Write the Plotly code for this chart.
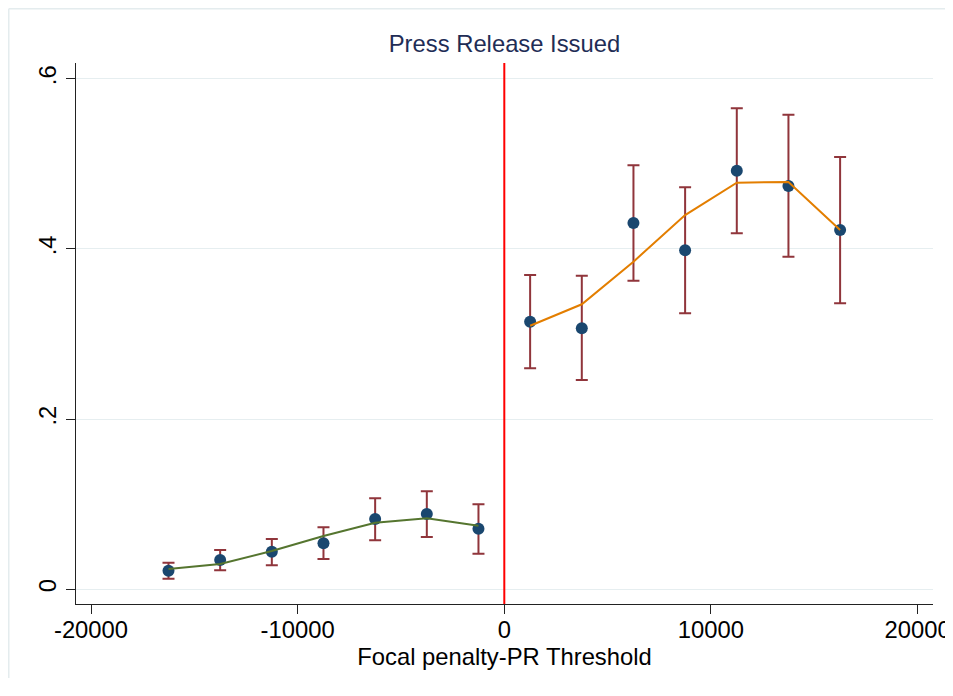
import plotly.graph_objects as go

# ---- data ----
x_left = [-16250, -13750, -11250, -8750, -6250, -3750, -1250]
y_left = [0.0219, 0.0344, 0.0442, 0.0541, 0.0826, 0.0885, 0.0712]
hi_left = [0.0313, 0.0462, 0.0591, 0.0729, 0.1070, 0.1152, 0.0999]
lo_left = [0.0125, 0.0223, 0.0282, 0.0356, 0.0576, 0.0615, 0.0418]
fit_left = [0.0239, 0.0297, 0.0450, 0.0626, 0.0783, 0.0835, 0.0748]

x_right = [1250, 3750, 6250, 8750, 11250, 13750, 16250]
y_right = [0.3145, 0.3068, 0.4305, 0.3984, 0.4920, 0.4740, 0.4223]
hi_right = [0.3694, 0.3686, 0.4984, 0.4725, 0.5654, 0.5578, 0.5081]
lo_right = [0.2598, 0.2460, 0.3627, 0.3244, 0.4184, 0.3909, 0.3362]
fit_right = [0.3098, 0.3350, 0.3851, 0.4399, 0.4779, 0.4787, 0.4223]

x_ticks = [-20000, -10000, 0, 10000, 20000]
x_tick_text = ["-20000", "-10000", "0", "10000", "20000"]
y_ticks = [0, 0.2, 0.4, 0.6]
y_tick_text = ["0", ".2", ".4", ".6"]

title_text = "Press Release Issued"
x_title = "Focal penalty-PR Threshold"

NAVY = "#1a476f"
MAROON = "#90353b"
GREEN = "#55752f"
ORANGE = "#e37e00"
FONT = "Liberation Sans, Arial, sans-serif"
FS = 23.8

# page has an 8px body margin: the figure starts at (8, 8)
W, H = 945, 670
ML, MR, MT, MB = 68, 20, 55, 74

fig = go.Figure()

for xs, ys, his, los in [(x_left, y_left, hi_left, lo_left),
                         (x_right, y_right, hi_right, lo_right)]:
    fig.add_trace(go.Scatter(
        x=xs, y=ys, mode="markers",
        marker=dict(color=NAVY, size=12, line=dict(width=0)),
        error_y=dict(type="data", symmetric=False,
                     array=[h - v for h, v in zip(his, ys)],
                     arrayminus=[v - l for v, l in zip(ys, los)],
                     color=MAROON, thickness=2, width=6),
        showlegend=False, hoverinfo="skip"))

fig.add_trace(go.Scatter(x=x_left, y=fit_left, mode="lines",
                         line=dict(color=GREEN, width=2), showlegend=False))
fig.add_trace(go.Scatter(x=x_right, y=fit_right, mode="lines",
                         line=dict(color=ORANGE, width=2), showlegend=False))

# vertical threshold line
fig.add_shape(type="line", xref="x", yref="paper", x0=0, x1=0, y0=0, y1=1,
              line=dict(color="#ff0000", width=2), layer="above")

# outer graph-region frame: top and left edges only
pw, ph = W - ML - MR, H - MT - MB
fx = (0.75 - ML) / pw
fy = 1 + (MT - 0.75) / ph
fig.add_shape(type="line", xref="paper", yref="paper",
              x0=fx, x1=(W - ML) / pw, y0=fy, y1=fy,
              line=dict(color="#e4ecee", width=1.5), layer="below")
fig.add_shape(type="line", xref="paper", yref="paper",
              x0=fx, x1=fx, y0=fy, y1=-MB / ph,
              line=dict(color="#e4ecee", width=1.5), layer="below")

fig.update_layout(
    width=W, height=H,
    margin=dict(l=ML, r=MR, t=MT, b=MB, autoexpand=False),
    paper_bgcolor="white", plot_bgcolor="white",
    font=dict(family=FONT, size=FS, color="black"),
    title=dict(text=title_text, x=0.5, xanchor="center", xref="paper",
               y=1 - 36 / H, yanchor="middle", yref="container",
               font=dict(family=FONT, size=FS, color="#1f2d56")),
    xaxis=dict(range=[-20726, 20745], tickvals=x_ticks, ticktext=x_tick_text,
               showgrid=False, zeroline=False, showline=True,
               linecolor="#222222", linewidth=1,
               ticks="outside", ticklen=9, tickcolor="#222222",
               automargin=False, ticklabeloverflow="allow",
               ticklabelstandoff=-5,
               title=dict(text=x_title, standoff=4,
                          font=dict(family=FONT, size=FS, color="black")),
               tickfont=dict(family=FONT, size=FS, color="black")),
    yaxis=dict(range=[-0.0173, 0.6186], tickvals=y_ticks, ticktext=y_tick_text,
               showgrid=True, gridcolor="#e6eef0", gridwidth=1,
               zeroline=False, showline=True,
               linecolor="#222222", linewidth=1,
               ticks="outside", ticklen=9, tickcolor="#222222",
               automargin=False,
               tickangle=-90,
               tickfont=dict(family=FONT, size=FS, color="black")),
)

fig.write_html("out.html")
